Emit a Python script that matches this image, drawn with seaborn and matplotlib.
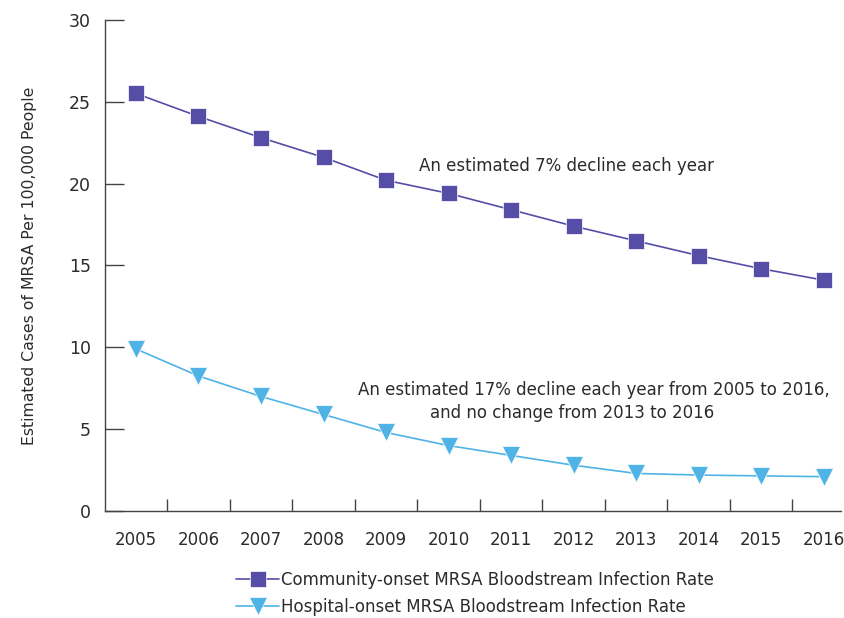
import numpy as np
import pandas as pd
import seaborn as sns
import matplotlib.pyplot as plt

years = [2005, 2006, 2007, 2008, 2009, 2010, 2011, 2012, 2013, 2014, 2015, 2016]
community = [25.5, 24.1, 22.8, 21.6, 20.2, 19.4, 18.4, 17.4, 16.5, 15.6, 14.8, 14.1]
hospital = [9.9, 8.25, 7.0, 5.9, 4.8, 4.0, 3.4, 2.8, 2.3, 2.2, 2.15, 2.1]
names = ["Community-onset MRSA Bloodstream Infection Rate",
         "Hospital-onset MRSA Bloodstream Infection Rate"]
colors = ["#564ea6", "#4fb3e6"]

sns.set_style("white")
plt.rcParams['font.family'] = ['DejaVu Sans']
txt = "#2b2b2b"

fig = plt.figure(figsize=(8.44, 6.18), dpi=100)
ax = fig.add_axes([0.124, 0.173, 0.872, 0.795])

com = pd.DataFrame({"Year": years, "Rate": community})
hos = pd.DataFrame({"Year": years, "Rate": hospital})
sns.lineplot(data=com, x="Year", y="Rate", ax=ax, color=colors[0], marker="s",
             markersize=11, markeredgecolor="white", markeredgewidth=0.5,
             linewidth=1.2, label=names[0])
sns.lineplot(data=hos, x="Year", y="Rate", ax=ax, color=colors[1], marker="v",
             markersize=13, markeredgecolor="white", markeredgewidth=0.5,
             linewidth=1.2, label=names[1])

ax.set_ylim(0, 30)
ax.set_yticks([0, 5, 10, 15, 20, 25, 30])
ax.set_xlim(years[0] - 0.5, years[-1] + 0.27)
ax.set_xticks(years)
ax.set_xticklabels([str(y) for y in years])
ax.set_xticks([y + 0.5 for y in years[:-1]], minor=True)
ax.tick_params(axis="x", which="major", length=0, pad=14, labelsize=12, labelcolor=txt)
ax.tick_params(axis="x", which="minor", direction="in", length=9, width=1, color="#444444")
ax.tick_params(axis="y", direction="in", length=14, width=1, color="#444444",
               pad=10, labelsize=12.5, labelcolor=txt)
ax.yaxis.set_ticks_position("left")
ax.xaxis.set_ticks_position("bottom")
sns.despine(ax=ax)
for s in ["left", "bottom"]:
    ax.spines[s].set_color("#444444")
    ax.spines[s].set_linewidth(1)

ax.set_xlabel("")
ax.set_ylabel("Estimated Cases of MRSA Per 100,000 People", fontsize=11.3,
              color=txt, labelpad=23)

ax.text(2011.89, 21.1, "An estimated 7% decline each year", ha="center",
        va="center", fontsize=12, color=txt)
ax.text(2012.33, 7.4, "An estimated 17% decline each year from 2005 to 2016,",
        ha="center", va="center", fontsize=12, color=txt)
ax.text(2011.97, 6.0, "and no change from 2013 to 2016", ha="center",
        va="center", fontsize=12, color=txt)

ax.legend(loc="upper left", bbox_to_anchor=(236 / 844, 1 - 571 / 618),
          bbox_transform=fig.transFigure, frameon=False, fontsize=12,
          handlelength=2.6, handletextpad=0.1, labelspacing=0.55,
          borderaxespad=0, borderpad=0, labelcolor=txt)

fig.savefig("out.png", dpi=100)
